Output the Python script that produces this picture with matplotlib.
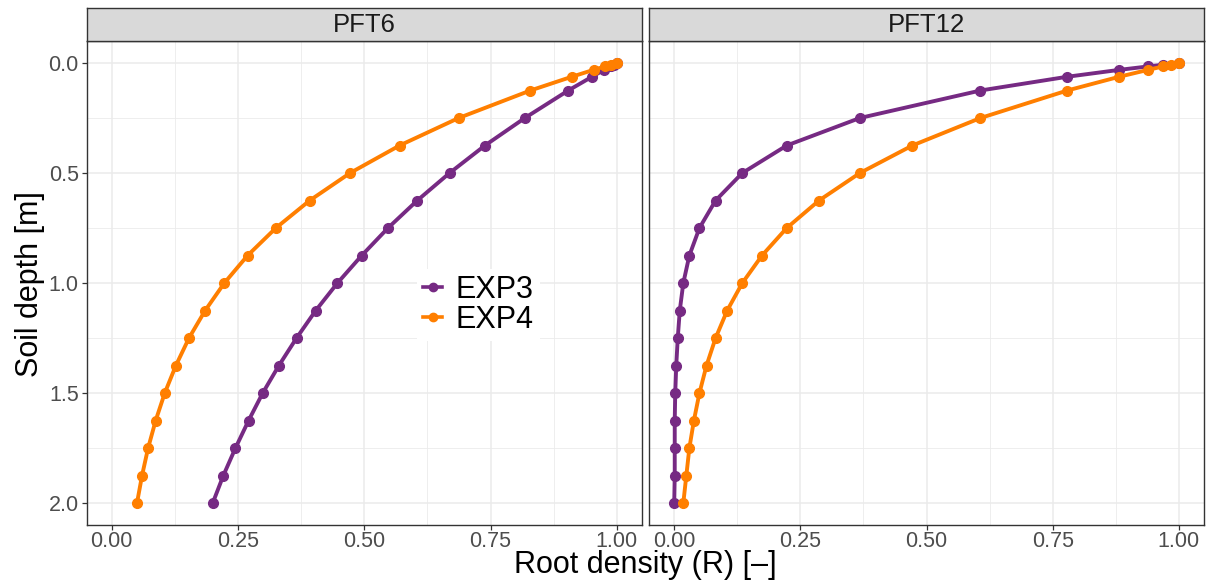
import matplotlib
matplotlib.use("Agg")
import matplotlib.pyplot as plt
from matplotlib.ticker import FixedLocator

plt.rcParams['font.family'] = ['Liberation Sans', 'DejaVu Sans']

# Soil depth of each layer [m]
depth = [0.0, 0.0078125, 0.015625, 0.03125, 0.0625,
         0.125, 0.25, 0.375, 0.5, 0.625, 0.75, 0.875, 1.0,
         1.125, 1.25, 1.375, 1.5, 1.625, 1.75, 1.875, 2.0]

panels = ["PFT6", "PFT12"]
experiments = ["EXP3", "EXP4"]

# Root density R [-] per layer
pft6_exp3 = [1.000, 0.994, 0.988, 0.975, 0.951,
             0.904, 0.818, 0.739, 0.669, 0.605, 0.547, 0.495, 0.447,
             0.404, 0.366, 0.331, 0.299, 0.271, 0.245, 0.221, 0.200]
pft6_exp4 = [1.000, 0.988, 0.977, 0.954, 0.911,
             0.829, 0.687, 0.570, 0.472, 0.392, 0.325, 0.269, 0.223,
             0.185, 0.153, 0.127, 0.105, 0.087, 0.072, 0.060, 0.050]
pft12_exp3 = [1.000, 0.969, 0.939, 0.882, 0.779,
              0.607, 0.368, 0.223, 0.135, 0.082, 0.050, 0.030, 0.018,
              0.011, 0.007, 0.004, 0.002, 0.001, 0.001, 0.001, 0.000]
pft12_exp4 = [1.000, 0.984, 0.969, 0.939, 0.882,
              0.779, 0.607, 0.472, 0.368, 0.287, 0.223, 0.174, 0.135,
              0.105, 0.082, 0.064, 0.050, 0.039, 0.030, 0.024, 0.018]

series = {
    "PFT6": {"EXP3": pft6_exp3, "EXP4": pft6_exp4},
    "PFT12": {"EXP3": pft12_exp3, "EXP4": pft12_exp4},
}
colors = {"EXP3": "#762A83", "EXP4": "#FF7F00"}

W, H = 1210, 586
fig = plt.figure(figsize=(W / 100, H / 100), dpi=100)
fig.patch.set_facecolor("white")


def px_axes(x0, y0, x1, y1):
    return fig.add_axes([x0 / W, 1 - y1 / H, (x1 - x0) / W, (y1 - y0) / H])


panel_x = [(86.5, 642.0), (649.0, 1204.0)]
panel_top, panel_bot = 41.0, 525.0
strip_top = 8.0

border = "#333333"
grid_col = "#EBEBEB"
tick_col = "#4D4D4D"

handles = {}
for i, (name, (x0, x1)) in enumerate(zip(panels, panel_x)):
    ax = px_axes(x0, panel_top, x1, panel_bot)
    ax.set_facecolor("white")
    for exp in experiments:
        (ln,) = ax.plot(series[name][exp], depth, color=colors[exp], lw=2.8,
                        marker="o", ms=7, mec=colors[exp], mfc=colors[exp],
                        label=exp, zorder=3)
        handles[exp] = ln
    ax.set_xlim(-0.05, 1.05)
    ax.set_ylim(2.1, -0.1)
    ax.xaxis.set_major_locator(FixedLocator([0, 0.25, 0.5, 0.75, 1.0]))
    ax.xaxis.set_minor_locator(FixedLocator([0.125, 0.375, 0.625, 0.875]))
    ax.yaxis.set_major_locator(FixedLocator([0, 0.5, 1.0, 1.5, 2.0]))
    ax.yaxis.set_minor_locator(FixedLocator([0.25, 0.75, 1.25, 1.75]))
    ax.set_xticklabels(["0.00", "0.25", "0.50", "0.75", "1.00"])
    ax.grid(which="major", color=grid_col, lw=1.1, zorder=0)
    ax.grid(which="minor", color=grid_col, lw=0.6, zorder=0)
    ax.set_axisbelow(True)
    for sp in ax.spines.values():
        sp.set_color(border)
        sp.set_linewidth(1.0)
    ax.tick_params(which="major", length=3.5, width=0.9, color=border,
                   labelsize=15.5, labelcolor=tick_col, pad=2)
    ax.tick_params(axis="x", pad=1)
    ax.tick_params(which="minor", length=0)
    if i == 0:
        ax.set_yticklabels(["0.0", "0.5", "1.0", "1.5", "2.0"])
    else:
        ax.tick_params(axis="y", which="both", left=False, labelleft=False)

    sx = px_axes(x0, strip_top, x1, panel_top)
    sx.set_facecolor("#D9D9D9")
    sx.set_xticks([])
    sx.set_yticks([])
    for sp in sx.spines.values():
        sp.set_color(border)
        sp.set_linewidth(1.0)
    sx.text(0.5, 0.48, name, transform=sx.transAxes, ha="center", va="center",
            fontsize=18.5, color="#1A1A1A")

fig.text(645 / W, 1 - 573 / H, "Root density (R) [\u2013]", ha="center",
         va="baseline", fontsize=22, color="black")
fig.text(30 / W, 1 - 284 / H, "Soil depth [m]", ha="center", va="center",
         rotation=90, fontsize=22, color="black")

# Legend on a white box inside the left panel
leg = fig.legend([handles[e] for e in experiments], experiments,
                 loc="center left", bbox_to_anchor=(402 / W, 1 - 305 / H),
                 frameon=True, fancybox=False, facecolor="white",
                 edgecolor="none", framealpha=1.0,
                 fontsize=22, handlelength=0.6,
                 handletextpad=0.45, labelspacing=0.0, borderpad=0.2)
for h in leg.legend_handles:
    h.set_markersize(6)
    h.set_linewidth(2.6)

fig.savefig("out.png", dpi=100, facecolor="white")
